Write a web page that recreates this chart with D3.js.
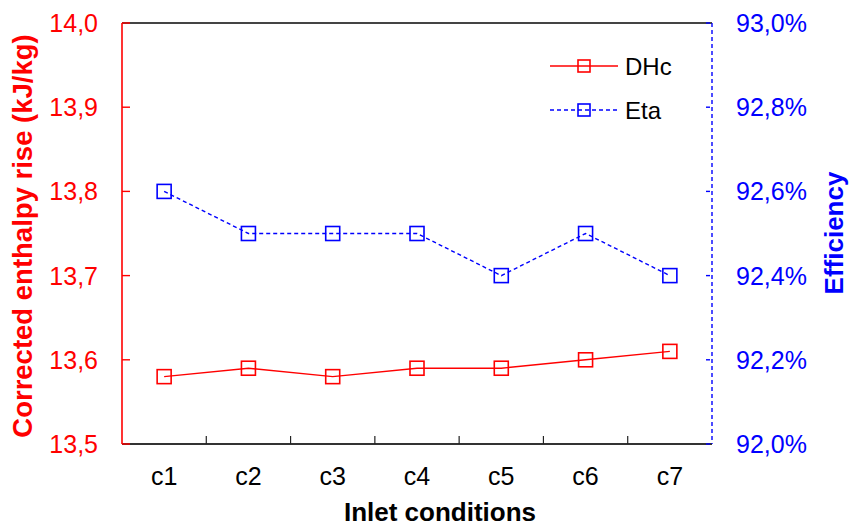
<!DOCTYPE html>
<html><head><meta charset="utf-8">
<script src="https://cdn.jsdelivr.net/npm/d3@7"></script>
<style>body{margin:0;background:#fff}svg{display:block;font-family:Arial,"Liberation Sans",sans-serif}</style>
</head><body><svg id="c" width="849" height="528"></svg>
<script>
const categories = ["c1","c2","c3","c4","c5","c6","c7"];
const dhcValues = [13.58, 13.59, 13.58, 13.59, 13.59, 13.60, 13.61];
const etaValues = [92.6, 92.5, 92.5, 92.5, 92.4, 92.5, 92.4];
const leftTicks = [13.5, 13.6, 13.7, 13.8, 13.9, 14.0];
const rightTicks = [92.0, 92.2, 92.4, 92.6, 92.8, 93.0];
const seriesNames = ["DHc", "Eta"];

const svg = d3.select("#c");
const L = 122, R = 712, T = 23, B = 444;
const red = "#ff0000", blue = "#0000ff";

const x = d3.scaleBand().domain(categories).range([L, R]);
const yL = d3.scaleLinear().domain([13.5, 14.0]).range([B, T]);
const yR = d3.scaleLinear().domain([92.0, 93.0]).range([B, T]);
const cx = c => x(c) + x.bandwidth() / 2;
const comma = (v, d) => v.toFixed(d).replace(".", ",");

// top border
svg.append("line").attr("x1", L).attr("x2", R).attr("y1", T).attr("y2", T)
  .attr("stroke", "#444").attr("stroke-width", 2);

// bottom axis
const gx = svg.append("g").attr("transform", `translate(0,${B})`);
gx.append("line").attr("x1", L).attr("x2", R).attr("stroke", "#333").attr("stroke-width", 2);
gx.selectAll(".tk").data(categories.slice(1)).enter().append("line")
  .attr("x1", d => x(d)).attr("x2", d => x(d)).attr("y1", 0).attr("y2", -8)
  .attr("stroke", "#222").attr("stroke-width", 1.2);
gx.selectAll(".lb").data(categories).enter().append("text")
  .attr("x", d => cx(d)).attr("y", 41).attr("text-anchor", "middle")
  .attr("font-size", 25).attr("fill", "#000").text(d => d);

// left axis
svg.append("line").attr("x1", L).attr("x2", L).attr("y1", T).attr("y2", B)
  .attr("stroke", red).attr("stroke-width", 1.6);
svg.selectAll(".lt").data(leftTicks).enter().append("line")
  .attr("x1", L).attr("x2", L + 8).attr("y1", d => yL(d)).attr("y2", d => yL(d))
  .attr("stroke", red).attr("stroke-width", 1.4);
svg.selectAll(".ll").data(leftTicks).enter().append("text")
  .attr("x", 98).attr("y", d => yL(d)).attr("dy", "0.36em").attr("text-anchor", "end")
  .attr("font-size", 25).attr("fill", red).text(d => comma(d, 1));

// right axis
svg.append("line").attr("x1", R).attr("x2", R).attr("y1", T).attr("y2", B)
  .attr("stroke", blue).attr("stroke-width", 1.4).attr("stroke-dasharray", "4,3");
svg.selectAll(".rt").data(rightTicks).enter().append("line")
  .attr("x1", R - 6).attr("x2", R - 2).attr("y1", d => yR(d)).attr("y2", d => yR(d))
  .attr("stroke", blue).attr("stroke-width", 1.4);
svg.selectAll(".rl").data(rightTicks).enter().append("text")
  .attr("x", 736).attr("y", d => yR(d)).attr("dy", "0.36em")
  .attr("font-size", 25).attr("fill", blue).text(d => comma(d, 1) + "%");

// titles
svg.append("text").attr("transform", "translate(32,236) rotate(-90)")
  .attr("text-anchor", "middle").attr("font-size", 27.5).attr("font-weight", "bold")
  .attr("fill", red).text("Corrected enthalpy rise (kJ/kg)");
svg.append("text").attr("transform", "translate(843,233) rotate(-90)")
  .attr("text-anchor", "middle").attr("font-size", 26).attr("font-weight", "bold")
  .attr("fill", blue).text("Efficiency");
svg.append("text").attr("x", 440).attr("y", 521).attr("text-anchor", "middle")
  .attr("font-size", 26).attr("font-weight", "bold").attr("fill", "#000").text("Inlet conditions");

// series
const series = [
  {name: seriesNames[0], vals: dhcValues, y: yL, color: red, dash: null},
  {name: seriesNames[1], vals: etaValues, y: yR, color: blue, dash: "4,3"}
];
const ms = 14;
series.forEach(s => {
  const pts = categories.map((c, i) => [cx(c), s.y(s.vals[i])]);
  svg.append("path").attr("d", d3.line()(pts)).attr("fill", "none")
    .attr("stroke", s.color).attr("stroke-width", 1.4)
    .attr("stroke-dasharray", s.dash);
  svg.selectAll(null).data(pts).enter().append("rect")
    .attr("x", d => d[0] - ms / 2).attr("y", d => d[1] - ms / 2)
    .attr("width", ms).attr("height", ms).attr("fill", "none")
    .attr("stroke", s.color).attr("stroke-width", 1.6);
});

// legend
const legY = [66, 110];
series.forEach((s, i) => {
  const g = svg.append("g");
  g.append("line").attr("x1", 550).attr("x2", 618).attr("y1", legY[i]).attr("y2", legY[i])
    .attr("stroke", s.color).attr("stroke-width", 1.4).attr("stroke-dasharray", s.dash);
  g.append("rect").attr("x", 584 - 6).attr("y", legY[i] - 6).attr("width", 12).attr("height", 12)
    .attr("fill", "none").attr("stroke", s.color).attr("stroke-width", 1.6);
  g.append("text").attr("x", 625).attr("y", legY[i]).attr("dy", "0.36em")
    .attr("font-size", 24).attr("fill", "#000").text(s.name);
});
</script></body></html>
